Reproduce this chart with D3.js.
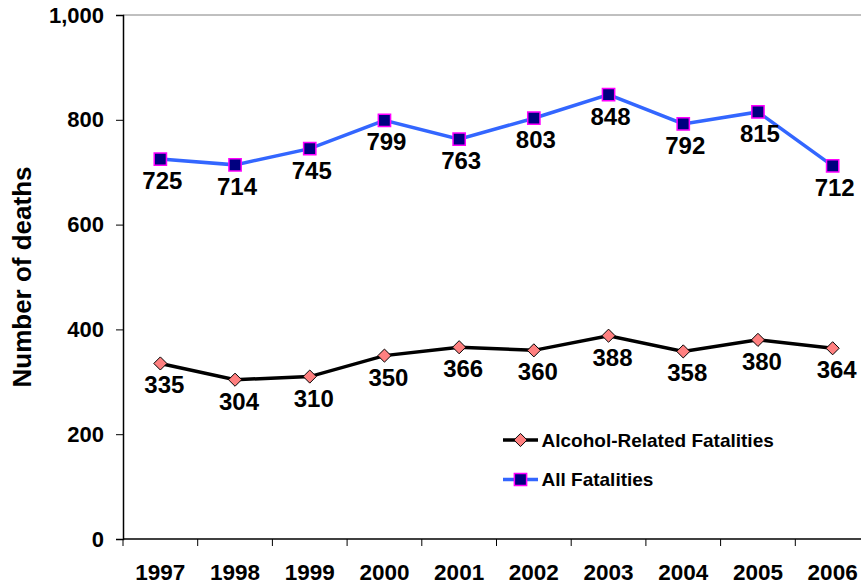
<!DOCTYPE html>
<html>
<head>
<meta charset="utf-8">
<script src="https://cdn.jsdelivr.net/npm/d3@7"></script>
<style>
  body { margin: 0; background: #fff; }
  svg { display: block; font-family: "Liberation Sans", Arial, sans-serif; font-weight: bold; }
</style>
</head>
<body>
<div id="chart"></div>
<script>
var years = ["1997", "1998", "1999", "2000", "2001", "2002", "2003", "2004", "2005", "2006"];
var alcoholDeaths = [335, 304, 310, 350, 366, 360, 388, 358, 380, 364];
var allDeaths = [725, 714, 745, 799, 763, 803, 848, 792, 815, 712];
var yTicks = [0, 200, 400, 600, 800, 1000];

(function () {
  var width = 861, height = 585;
  var plotLeft = 123, plotTop = 15, plotBottom = 539, plotRight = 870;

  var svg = d3.select("#chart").append("svg")
    .attr("width", width)
    .attr("height", height);

  var x = d3.scaleBand().domain(years).range([plotLeft, plotRight]);
  var y = d3.scaleLinear().domain([0, 1000]).range([plotBottom, plotTop]);

  // plot area border (top / right)
  svg.append("path")
    .attr("d", "M" + plotLeft + "," + plotTop + "H" + plotRight + "V" + plotBottom)
    .attr("fill", "none")
    .attr("stroke", "#808080")
    .attr("stroke-width", 1);

  // y axis
  var yAxis = svg.append("g")
    .attr("transform", "translate(" + plotLeft + ",0)")
    .call(d3.axisLeft(y).tickValues(yTicks).tickFormat(d3.format(",")).tickSize(7).tickPadding(12));
  yAxis.select(".domain").attr("stroke", "#000").attr("stroke-width", 1.5);
  yAxis.selectAll(".tick line").attr("stroke", "#000");
  yAxis.selectAll("text")
    .attr("font-size", "22px")
    .attr("font-family", "Liberation Sans, Arial, sans-serif")
    .attr("font-weight", "bold")
    .attr("fill", "#000");

  // x axis: ticks sit between categories
  var xAxis = svg.append("g")
    .attr("transform", "translate(0," + plotBottom + ")");
  xAxis.append("line")
    .attr("x1", plotLeft).attr("x2", plotRight)
    .attr("stroke", "#000").attr("stroke-width", 1.5);
  xAxis.selectAll(".sep")
    .data(years.concat(["end"]))
    .enter().append("line")
    .attr("class", "sep")
    .attr("x1", function(d, i) { return plotLeft + i * x.bandwidth(); })
    .attr("x2", function(d, i) { return plotLeft + i * x.bandwidth(); })
    .attr("y1", 0).attr("y2", 7)
    .attr("stroke", "#000");
  xAxis.selectAll(".lbl")
    .data(years)
    .enter().append("text")
    .attr("class", "lbl")
    .attr("x", function(d) { return x(d) + x.bandwidth() / 2; })
    .attr("y", 41)
    .attr("text-anchor", "middle")
    .attr("font-size", "22.5px")
    .text(function(d) { return d; });

  // y axis title
  svg.append("text")
    .attr("transform", "translate(31," + ((plotTop + plotBottom) / 2) + ") rotate(-90)")
    .attr("text-anchor", "middle")
    .attr("font-size", "26px")
    .text("Number of deaths");

  var cx = function(d, i) { return x(years[i]) + x.bandwidth() / 2; };

  var line = d3.line()
    .x(function(d, i) { return cx(d, i); })
    .y(function(d) { return y(d); });

  var diamond = d3.symbol().type(d3.symbolDiamond2).size(110);
  var square = d3.symbol().type(d3.symbolSquare).size(150);

  // alcohol-related series
  svg.append("path")
    .datum(alcoholDeaths)
    .attr("d", line)
    .attr("fill", "none")
    .attr("stroke", "#000")
    .attr("stroke-width", 3.5);
  svg.selectAll(".alc")
    .data(alcoholDeaths)
    .enter().append("path")
    .attr("class", "alc")
    .attr("d", diamond)
    .attr("transform", function(d, i) { return "translate(" + cx(d, i) + "," + y(d) + ")"; })
    .attr("fill", "#FF8080")
    .attr("stroke", "#000")
    .attr("stroke-width", 1);
  svg.selectAll(".alcLbl")
    .data(alcoholDeaths)
    .enter().append("text")
    .attr("class", "alcLbl")
    .attr("x", function(d, i) { return cx(d, i) + 4; })
    .attr("y", function(d) { return y(d) + 30; })
    .attr("text-anchor", "middle")
    .attr("font-size", "24px")
    .text(function(d) { return d; });

  // all fatalities series
  svg.append("path")
    .datum(allDeaths)
    .attr("d", line)
    .attr("fill", "none")
    .attr("stroke", "#3366FF")
    .attr("stroke-width", 3.5);
  svg.selectAll(".all")
    .data(allDeaths)
    .enter().append("path")
    .attr("class", "all")
    .attr("d", square)
    .attr("transform", function(d, i) { return "translate(" + cx(d, i) + "," + y(d) + ")"; })
    .attr("fill", "#000080")
    .attr("stroke", "#FF00FF")
    .attr("stroke-width", 1.5);
  svg.selectAll(".allLbl")
    .data(allDeaths)
    .enter().append("text")
    .attr("class", "allLbl")
    .attr("x", function(d, i) { return cx(d, i) + 2; })
    .attr("y", function(d) { return y(d) + 30; })
    .attr("text-anchor", "middle")
    .attr("font-size", "24px")
    .text(function(d) { return d; });

  // legend
  var legend = [
    { name: "Alcohol-Related Fatalities", color: "#000", sym: diamond, fill: "#FF8080", stroke: "#000", sw: 1 },
    { name: "All Fatalities", color: "#3366FF", sym: square, fill: "#000080", stroke: "#FF00FF", sw: 1.5 }
  ];
  var lg = svg.selectAll(".legend")
    .data(legend)
    .enter().append("g")
    .attr("class", "legend")
    .attr("transform", function(d, i) { return "translate(503," + (440 + i * 39.5) + ")"; });
  lg.append("line")
    .attr("x1", 0).attr("x2", 35)
    .attr("stroke", function(d) { return d.color; })
    .attr("stroke-width", 3.5);
  lg.append("path")
    .attr("d", function(d) { return d.sym(); })
    .attr("transform", "translate(17.5,0)")
    .attr("fill", function(d) { return d.fill; })
    .attr("stroke", function(d) { return d.stroke; })
    .attr("stroke-width", function(d) { return d.sw; });
  lg.append("text")
    .attr("x", 38.5)
    .attr("y", 6.5)
    .attr("font-size", "19px")
    .text(function(d) { return d.name; });
})();
</script>
</body>
</html>
